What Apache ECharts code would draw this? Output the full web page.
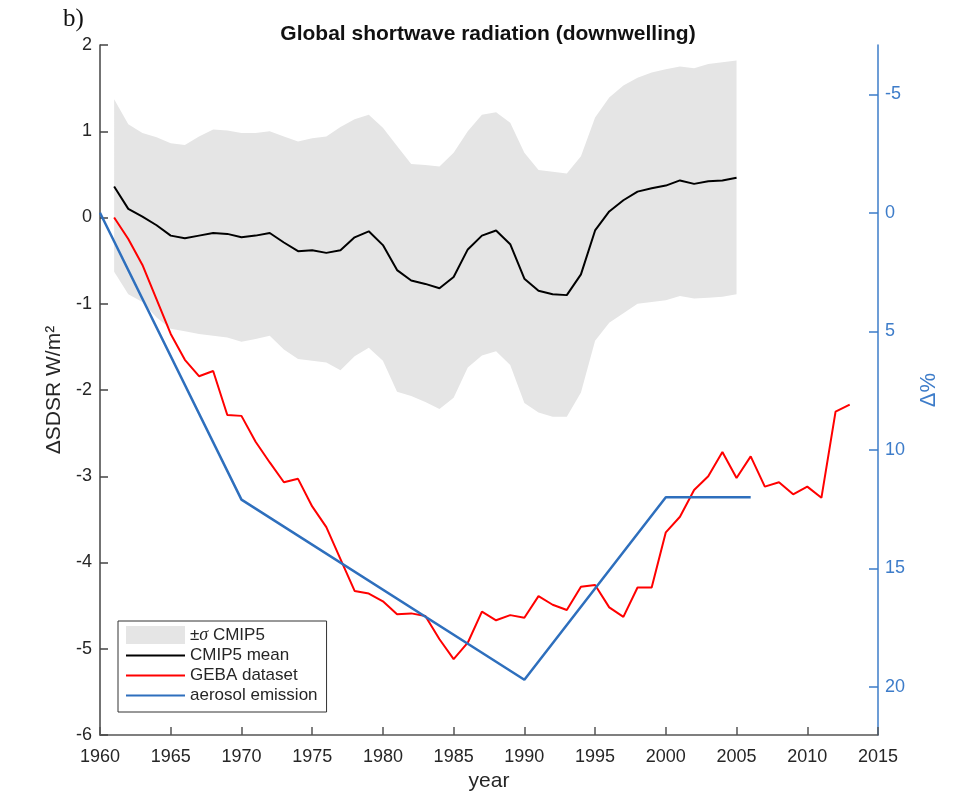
<!DOCTYPE html>
<html>
<head>
<meta charset="utf-8">
<script src="https://cdn.jsdelivr.net/npm/echarts@6/dist/echarts.min.js"></script>
<style>
  html, body { margin: 0; padding: 0; background: #fff; }
  #main { width: 961px; height: 794px; }
</style>
</head>
<body>
<div id="main"></div>
<script>
  // years of the CMIP5 ensemble (mean and +/- sigma band)
  const cmipYears = [1961, 1962, 1963, 1964, 1965, 1966, 1967, 1968, 1969, 1970,
    1971, 1972, 1973, 1974, 1975, 1976, 1977, 1978, 1979, 1980,
    1981, 1982, 1983, 1984, 1985, 1986, 1987, 1988, 1989, 1990,
    1991, 1992, 1993, 1994, 1995, 1996, 1997, 1998, 1999, 2000,
    2001, 2002, 2003, 2004, 2005];
  const cmipMean = [0.36, 0.10, 0.01, -0.09, -0.21, -0.24, -0.21, -0.18, -0.19, -0.23,
    -0.21, -0.18, -0.29, -0.39, -0.38, -0.41, -0.38, -0.23, -0.16, -0.32,
    -0.61, -0.73, -0.77, -0.82, -0.69, -0.37, -0.21, -0.15, -0.31, -0.71,
    -0.85, -0.89, -0.90, -0.66, -0.15, 0.07, 0.20, 0.30, 0.34, 0.37,
    0.43, 0.39, 0.42, 0.43, 0.46];
  const bandUpper = [1.37, 1.08, 0.98, 0.93, 0.86, 0.84, 0.94, 1.02, 1.01, 0.98,
    0.98, 1.00, 0.94, 0.88, 0.92, 0.94, 1.05, 1.14, 1.19, 1.04,
    0.83, 0.62, 0.61, 0.59, 0.75, 1.00, 1.19, 1.22, 1.10, 0.75,
    0.55, 0.53, 0.51, 0.71, 1.16, 1.39, 1.53, 1.62, 1.68, 1.72,
    1.75, 1.73, 1.78, 1.80, 1.82];
  const bandLower = [-0.63, -0.89, -0.98, -1.16, -1.29, -1.32, -1.35, -1.37, -1.39, -1.44,
    -1.41, -1.37, -1.53, -1.64, -1.66, -1.68, -1.77, -1.61, -1.51, -1.66,
    -2.02, -2.07, -2.14, -2.22, -2.09, -1.74, -1.60, -1.55, -1.71, -2.15,
    -2.26, -2.31, -2.31, -2.03, -1.43, -1.22, -1.11, -1.00, -0.98, -0.96,
    -0.91, -0.94, -0.93, -0.92, -0.89];

  // GEBA observations
  const gebaYears = [1961, 1962, 1963, 1964, 1965, 1966, 1967, 1968, 1969, 1970,
    1971, 1972, 1973, 1974, 1975, 1976, 1977, 1978, 1979, 1980,
    1981, 1982, 1983, 1984, 1985, 1986, 1987, 1988, 1989, 1990,
    1991, 1992, 1993, 1994, 1995, 1996, 1997, 1998, 1999, 2000,
    2001, 2002, 2003, 2004, 2005, 2006, 2007, 2008, 2009, 2010,
    2011, 2012, 2013];
  const gebaValues = [0.00, -0.25, -0.55, -0.95, -1.35, -1.65, -1.84, -1.78, -2.29, -2.30,
    -2.60, -2.84, -3.07, -3.03, -3.35, -3.59, -3.96, -4.33, -4.36, -4.45,
    -4.60, -4.59, -4.62, -4.89, -5.12, -4.93, -4.57, -4.67, -4.61, -4.64,
    -4.39, -4.49, -4.55, -4.28, -4.26, -4.52, -4.63, -4.29, -4.29, -3.65,
    -3.47, -3.16, -3.00, -2.72, -3.02, -2.77, -3.12, -3.07, -3.21, -3.12,
    -3.25, -2.25, -2.17];

  // aerosol emission, right axis (delta %)
  const aerosolYears = [1960, 1970, 1990, 2000, 2006];
  const aerosolValues = [0, 12.1, 19.7, 12.0, 12.0];

  const rightTicks = [-5, 0, 5, 10, 15, 20];

  const pairs = (xs, ys) => xs.map((x, i) => [x, ys[i]]);

  const FONT = 'Liberation Sans';
  const DARK = '#262626';
  const AXIS_BLUE = '#3d7cc9';
  const BAND = '#e5e5e5';

  let myChart = echarts.init(document.getElementById('main'));
  let option = {
    animation: false,
    textStyle: { fontFamily: FONT },
    title: [
      {
        text: 'Global shortwave radiation (downwelling)',
        left: 483, top: 19, textAlign: 'center',
        textStyle: { fontFamily: FONT, fontSize: 21, fontWeight: 'bold', color: '#111' }
      },
      {
        text: 'b)',
        left: 58, top: 2,
        textStyle: { fontFamily: 'Liberation Serif', fontSize: 25, fontWeight: 'normal', color: '#111' }
      }
    ],
    grid: { left: 100, right: 83, top: 45, bottom: 59, outerBoundsMode: 'none' },
    legend: {
      orient: 'vertical',
      left: 118, top: 621,
      padding: [5, 9, 8, 7],
      itemGap: 3,
      itemWidth: 59, itemHeight: 18,
      borderColor: '#333', borderWidth: 1,
      backgroundColor: '#fff',
      textStyle: {
        fontFamily: FONT, fontSize: 17, color: DARK,
        rich: { s: { fontFamily: 'Liberation Serif', fontStyle: 'italic', fontSize: 18, color: DARK } }
      },
      formatter: name => name === '±σ CMIP5' ? '±{s|σ} CMIP5' : name,
      data: [
        { name: '±σ CMIP5', icon: 'rect', itemStyle: { color: BAND, opacity: 1 } },
        { name: 'CMIP5 mean', itemStyle: { opacity: 0 } },
        { name: 'GEBA dataset', itemStyle: { opacity: 0 } },
        { name: 'aerosol emission', itemStyle: { opacity: 0 } }
      ]
    },
    xAxis: {
      type: 'value',
      min: 1960, max: 2015, interval: 5,
      name: 'year', nameLocation: 'middle', nameGap: 36,
      nameTextStyle: { fontFamily: FONT, fontSize: 21, color: DARK },
      axisLine: { show: true, onZero: false, lineStyle: { color: '#555', width: 1.5 } },
      axisTick: { show: true, inside: true, length: 8, lineStyle: { color: '#555', width: 1.5 } },
      axisLabel: { fontFamily: FONT, fontSize: 18, color: DARK, margin: 13,
        formatter: v => String(v) },
      splitLine: { show: false }
    },
    yAxis: [
      {
        type: 'value',
        min: -6, max: 2, interval: 1,
        name: 'ΔSDSR W/m²', nameLocation: 'middle', nameRotate: 90, nameGap: 33,
        nameTextStyle: { fontFamily: FONT, fontSize: 21, color: DARK },
        axisLine: { show: true, lineStyle: { color: '#444', width: 1.5 } },
        axisTick: { show: true, inside: true, length: 8, lineStyle: { color: '#444', width: 1.5 } },
        axisLabel: { fontFamily: FONT, fontSize: 18, color: DARK, margin: 8 },
        splitLine: { show: false }
      },
      {
        type: 'value',
        position: 'right',
        inverse: true,
        min: -7.08, max: 22.03,
        name: 'Δ%', nameLocation: 'middle', nameRotate: 90, nameGap: 40,
        nameTextStyle: { fontFamily: FONT, fontSize: 22, color: AXIS_BLUE },
        axisLine: { show: true, lineStyle: { color: AXIS_BLUE, width: 1.5 } },
        axisTick: { show: true, inside: true, length: 9, customValues: rightTicks,
          lineStyle: { color: AXIS_BLUE, width: 1.5 } },
        axisLabel: { fontFamily: FONT, fontSize: 18, color: AXIS_BLUE, margin: 7,
          customValues: rightTicks },
        splitLine: { show: false }
      }
    ],
    series: [
      {
        name: '±σ CMIP5', type: 'custom',
        data: cmipYears.map((yr, i) => [yr, bandLower[i], bandUpper[i]]),
        encode: { x: 0, y: [1, 2] },
        itemStyle: { color: BAND },
        silent: true, z: 1,
        renderItem: (params, api) => {
          // draw the whole band once, as one polygon
          if (params.dataIndex !== 0) return;
          const top = cmipYears.map((yr, i) => api.coord([yr, bandUpper[i]]));
          const bottom = cmipYears.map((yr, i) => api.coord([yr, bandLower[i]])).reverse();
          return {
            type: 'polygon',
            shape: { points: top.concat(bottom) },
            style: { fill: BAND }
          };
        }
      },
      {
        name: 'CMIP5 mean', type: 'line',
        data: pairs(cmipYears, cmipMean),
        symbol: 'none',
        itemStyle: { color: '#000' },
        lineStyle: { color: '#000', width: 2 }, z: 3
      },
      {
        name: 'GEBA dataset', type: 'line',
        data: pairs(gebaYears, gebaValues),
        symbol: 'none',
        itemStyle: { color: '#ff0000' },
        lineStyle: { color: '#ff0000', width: 2 }, z: 4
      },
      {
        name: 'aerosol emission', type: 'line', yAxisIndex: 1,
        data: pairs(aerosolYears, aerosolValues),
        symbol: 'none',
        itemStyle: { color: '#2e6fbd' },
        lineStyle: { color: '#2e6fbd', width: 2.5 }, z: 5
      }
    ]
  };
  myChart.setOption(option);
</script>
</body>
</html>
